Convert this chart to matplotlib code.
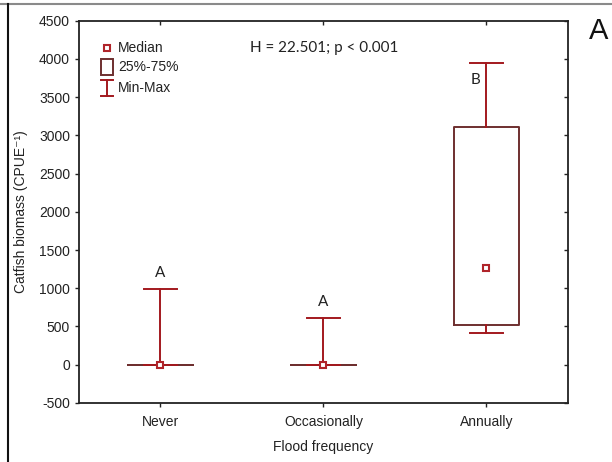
import matplotlib
matplotlib.use("Agg")
import matplotlib.pyplot as plt
from matplotlib.lines import Line2D
from matplotlib.patches import Rectangle

# group stats (CPUE)
groups = ["Never", "Occasionally", "Annually"]
medians = [0, 0, 1265]
q1 = [0, 0, 515]
q3 = [0, 0, 3115]
mins = [0, 0, 420]
maxs = [990, 610, 3945]
letters = ["A", "A", "B"]

whisk_c = "#a3191e"
box_c = "#6e2f2f"
med_c = "#b0242a"

plt.rcParams['font.family'] = ['Liberation Sans', 'DejaVu Sans']
plt.rcParams['axes.unicode_minus'] = False

fig = plt.figure(figsize=(6.12, 4.62), dpi=100)
ax = fig.add_axes([0.129, 0.128, 0.799, 0.827])

stats = []
for i, g in enumerate(groups):
    stats.append(dict(label=g, med=medians[i], q1=q1[i], q3=q3[i],
                      whislo=mins[i], whishi=maxs[i], fliers=[]))

pos = [1, 2, 3]
ax.bxp(stats, positions=pos, widths=0.4, capwidths=0.2, showfliers=False,
       boxprops=dict(color=box_c, linewidth=1.4),
       whiskerprops=dict(color=whisk_c, linewidth=1.4),
       capprops=dict(color=whisk_c, linewidth=1.4),
       medianprops=dict(visible=False))
ax.plot(pos, medians, ls="none", marker="s", ms=4.5, mfc="white",
        mec=med_c, mew=1.5, zorder=5)

# letters above whiskers
ax.text(1, maxs[0] + 120, letters[0], ha="center", va="bottom",
        fontsize=11, family=["Lato", "DejaVu Sans"], color="#222222")
ax.text(2, maxs[1] + 120, letters[1], ha="center", va="bottom",
        fontsize=11, family=["Lato", "DejaVu Sans"], color="#222222")
ax.text(2.96, maxs[2] - 130, letters[2], ha="right", va="top",
        fontsize=11, family=["Lato", "DejaVu Sans"], color="#222222")

ax.text(0.349, 0.929, "H = 22.501; p < 0.001", transform=ax.transAxes,
        ha="left", va="center", fontsize=11, family=["Lato", "DejaVu Sans"],
        color="#222222")

# legend glyphs
tr = ax.transAxes
ax.plot([0.057], [0.929], transform=tr, ls="none", marker="s", ms=4.5,
        mfc="white", mec=med_c, mew=1.5, clip_on=False)
ax.add_patch(Rectangle((0.045, 0.857), 0.025, 0.042, transform=tr,
                       fill=False, ec=box_c, lw=1.4))
ax.plot([0.057, 0.057], [0.803, 0.845], transform=tr, color=whisk_c, lw=1.4)
ax.plot([0.045, 0.070], [0.845, 0.845], transform=tr, color=whisk_c, lw=1.4)
ax.plot([0.045, 0.070], [0.803, 0.803], transform=tr, color=whisk_c, lw=1.4)
for y, t in zip([0.929, 0.878, 0.824], ["Median", "25%-75%", "Min-Max"]):
    ax.text(0.080, y, t, transform=tr, ha="left", va="center", fontsize=10,
            color="#222222")

ax.set_xlim(0.5, 3.5)
ax.set_ylim(-500, 4500)
ax.set_yticks(range(-500, 4501, 500))
ax.set_xticks(pos)
ax.set_xticklabels(groups)
ax.tick_params(axis="both", labelsize=10, colors="#222222", length=3,
               width=1, direction="out")
ax.tick_params(axis="x", pad=6)
for s in ax.spines.values():
    s.set_linewidth(1.3)
    s.set_color("#222222")

# inward ticks on top and right
top = ax.secondary_xaxis("top")
top.set_xticks(pos)
top.tick_params(direction="in", length=3, width=1, labeltop=False,
                colors="#222222")
top.spines["top"].set_visible(False)
right = ax.secondary_yaxis("right")
right.set_yticks(range(-500, 4501, 500))
right.tick_params(direction="in", length=3, width=1, labelright=False,
                  colors="#222222")
right.spines["right"].set_visible(False)

ax.set_xlabel("Flood frequency", fontsize=10, labelpad=8, color="#222222")
ax.set_ylabel("Catfish biomass (CPUE\u207b\u00b9)", fontsize=10,
              labelpad=8, color="#222222")

# panel letter
fig.text(0.978, 0.932, "A", ha="center", va="center", fontsize=21,
         color="#111111")

# outer frame edges
fig.add_artist(Line2D([0, 1], [0.991, 0.991], transform=fig.transFigure,
                      color="#8a8a8a", lw=1.5))
fig.add_artist(Line2D([0.013, 0.013], [0, 0.991], transform=fig.transFigure,
                      color="#111111", lw=1.5))

fig.savefig("out.png", dpi=100)
